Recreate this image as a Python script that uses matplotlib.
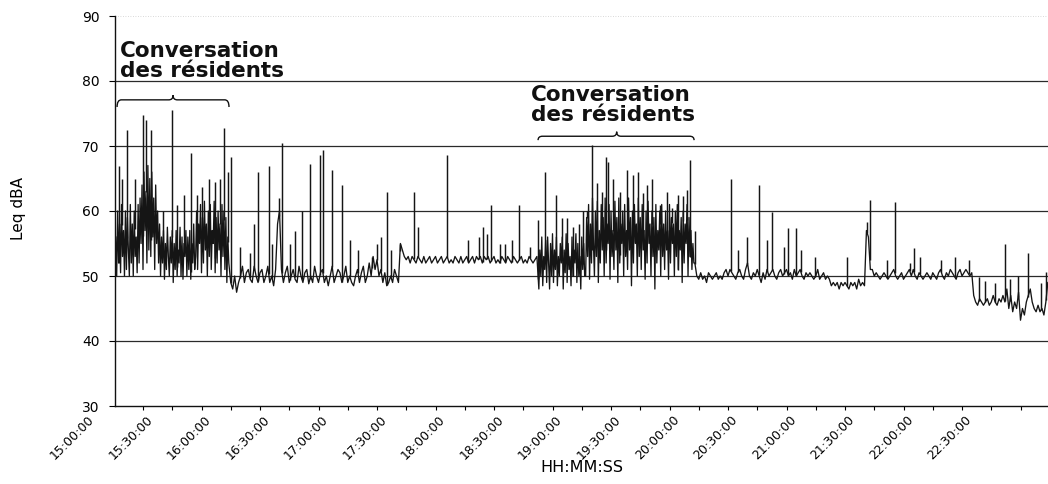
import numpy as np
import matplotlib
matplotlib.use("Agg")
import matplotlib.pyplot as plt
from matplotlib.path import Path
from matplotlib.patches import PathPatch
from matplotlib.transforms import ScaledTranslation, blended_transform_factory
from matplotlib.ticker import FixedLocator, FuncFormatter

# ---------------- data (time in minutes after 15:00:00) ----------------
# 1st residents' conversation, 30 s samples from 15:16:00
conv1_start, conv1_step = 16, 0.5
conv1 = [56, 50, 60, 52, 58, 50.5, 61, 53, 57, 50, 60, 51, 59, 54, 50, 61, 52, 58, 50, 60, 53, 56, 50.5, 61,
         52, 62, 55, 64, 51, 66, 57, 63, 52, 67, 54, 65, 53, 66, 56, 62, 51, 64, 55, 60, 52, 58,
         50, 56, 52, 57, 49.5, 55, 51, 57.5, 53, 50, 56, 52, 57, 49, 55, 51, 57, 50, 54, 52,
         57.5, 50, 56, 49.5, 55, 53, 57, 50, 56, 51, 57, 49.5, 55, 52, 58, 51,
         53, 60, 51, 58, 55, 61, 50.5, 59, 52, 61.5, 54, 58, 50, 60, 53, 61, 51, 57, 55, 61.5,
         50.5, 59, 52, 60, 54, 58, 50, 61, 53, 60, 51, 59, 49, 56]
# quiet period, 1 min samples from 16:14:00
quiet_a_start, quiet_a_step = 74, 1
quiet_a = [52, 49, 48, 50, 47.5, 49,
           50, 51.5, 49, 50.5, 51, 49.5, 49, 51.5, 50, 49, 50.5, 51, 49, 50, 51.5, 49, 50, 48.5, 51, 58,
           60, 51, 49, 50.5, 51.5, 49, 50, 51, 49.5, 49, 51.5, 50, 49, 50.5, 51, 48.8, 50, 49, 51.5, 50,
           49, 50.5, 51, 49, 50, 48.5, 50, 51.5, 49, 50, 51, 50.5, 49, 50, 51.5, 49, 50, 49, 48.5, 50,
           51, 49, 50.5, 51.5, 49, 50, 52, 50, 53, 51, 52.5, 50, 51, 49, 50.5, 48.5, 49, 50, 49, 51, 50, 49]
quiet_b_start, quiet_b_step = 162, 1
quiet_b = [55, 54, 53, 52.5, 53, 52, 53, 52.5, 52, 53, 52.5, 52, 53, 52, 52.5, 53, 52, 52.5, 53, 52,
           52.5, 53, 52, 52.5, 53, 52, 52.5, 52, 53, 52.5, 52, 53, 52, 52.5, 53, 52, 52.5, 53, 52, 53,
           52.5, 53, 52, 53, 52.5, 53, 52, 52.5, 53, 52, 52.5, 52, 53, 52.5, 52, 53, 52.5, 52, 53, 52.5,
           52, 52.5, 53, 52, 52.5, 52, 53, 52.5, 52, 52.5, 53]
# 2nd residents' conversation, 30 s samples from 18:53:00
conv2_start, conv2_step = 233, 0.5
conv2 = [48, 54, 50, 56, 48.5, 53, 51, 55.5, 49, 56, 52, 48, 55, 50, 56.5, 49, 54, 51, 56, 48.5,
         53, 50, 55, 52, 56, 48, 54, 50.5, 56.5, 49, 55, 51, 53, 48.5, 56, 50, 54, 52, 56.5, 49,
         55, 50, 53, 48, 56, 51, 55, 50,
         50, 59, 53, 61, 49.5, 58, 52, 62, 55, 50, 60, 53, 61.5, 49, 57, 52, 61, 54, 59, 50,
         62, 52, 58, 55, 61, 49.5, 60, 53, 57, 51, 61.5, 54, 59, 49, 62, 52, 58, 55, 60, 50,
         61, 53, 57, 51, 62, 54, 59, 48.5, 60, 52, 61, 55, 58, 50, 62, 53, 59, 51, 61, 54,
         57, 49.5, 60, 52, 61.5, 55, 58, 50, 60, 53, 59, 48, 61, 52, 57, 54, 60, 50, 61, 53,
         58, 51, 60, 54, 57, 49.5, 61, 52, 59, 55, 58, 50, 60, 53, 61, 51, 57, 54, 59, 49,
         60, 52, 58, 55, 61, 50, 59, 53, 57, 51, 55, 52]
quiet_c_start, quiet_c_step = 313, 1
quiet_c = [52, 50, 49.5, 50.5, 49.5, 50, 49, 50.5, 50, 49.5, 50, 50.5, 49.5, 50, 49.5, 50.5, 51, 50, 51, 50.5,
           50, 49.5, 50.5, 51, 50, 49.5, 51, 52, 50, 49.5, 50.5, 50, 51, 50, 49, 50.5, 49.5, 51, 50, 50.5,
           51, 50, 49.5, 50.5, 51, 50, 50.5, 51, 50, 50.5, 49.5, 51, 50, 50.5, 51, 50, 49.5, 50.5, 50, 50.5,
           50, 49.5, 50, 51, 49.5, 50, 50.5, 49.5, 50, 49.5, 48.5, 49, 48.5, 49, 48, 49, 48.5, 49, 48.5, 48,
           49, 48.5, 49, 48, 49.5, 48.5, 49, 48.5, 57, 56, 51, 51, 50, 50.5, 50, 49.5, 50, 50.5, 50, 49.5,
           50, 50.5, 51, 50, 49.5, 50, 50.5, 49.5, 50, 50.5, 51, 50, 51, 50, 49.5, 50.5, 50, 49.5, 50, 50.5,
           50, 49.5, 50.5, 50, 49.5, 50.5, 51, 50, 49.5, 50.5, 50, 51, 50.5, 50, 49.5, 50.5, 51, 50, 50.5, 51,
           50.5, 50, 50.5]
final_d_start, final_d_step = 456, 1
final_d = [47, 46, 45.5, 46.5, 46, 45.5, 46, 46.5, 45.5, 46, 47, 46, 45.5, 46.5, 46,
           47, 46, 48, 45, 47, 44.5, 46, 45, 47.5, 43.2, 45, 44, 46, 47, 48, 46, 45, 44.5,
           45.5, 44.5, 45, 44, 46, 49]

# short peaks (minute after 15:00, Leq dBA)
spike_min = [17.5, 19.2, 21.8, 25.7, 29.8, 31.5, 34.1, 40.1, 44.9, 47.4, 50.9, 54.6, 57.7, 60.3,
             63.7, 66.9, 69.5, 71.4, 73.6,
             75.1, 79.7, 84.9, 86.8, 88.8, 94.5, 96.2, 99.6, 101.3, 105.4, 107.8, 111.5, 115.6,
             120.8, 122.3, 126.9, 132.1, 136.0, 140.3, 147.4, 150.0, 152.1, 155.1, 157.2, 161.8,
             168.8, 171.0, 186.0, 196.8, 202.3, 204.2, 206.3, 208.5, 213.0, 215.6, 219.1, 222.8,
             228.5, 232.7,
             236.2, 241.6, 244.7, 247.3, 250.5, 253.7, 255.6, 257.5, 260.1, 262.7, 265.2, 267.4,
             268.6, 271.0, 274.6, 278.1, 281.3, 283.8, 286.3, 288.3, 290.9, 295.1, 298.6, 301.1,
             304.5, 307.1, 308.8, 310.5, 313.1,
             331.4, 335.1, 339.9, 345.9, 350.2, 352.7, 358.7, 360.8, 365.0, 367.4, 374.8, 391.2,
             401.4, 402.7, 411.7, 415.5, 423.2, 425.4, 428.5, 439.4, 446.4, 453.4,
             458.6, 461.9, 467.0, 471.9, 474.6, 478.7, 483.8, 490.5, 493.1]
spike_db = [67, 65, 72.5, 65, 74.8, 74, 72.5, 60, 75.5, 61, 62.5, 69, 62.5, 63.7,
            65, 64.5, 65, 72.7, 66,
            68.3, 54.5, 53.5, 58, 66, 67, 55, 62, 70.5, 55, 57, 60, 67.3,
            68.6, 69.4, 66.3, 64, 55.5, 54, 53, 55, 56, 63, 54, 55,
            63, 57.5, 68.6, 55.5, 56, 57.5, 56.5, 61, 55, 55, 55.5, 61,
            54.5, 58.6,
            66, 62.5, 59, 59, 57.5, 58, 60, 60, 70.2, 64.3, 63, 68.3,
            67.5, 65, 63, 66.3, 65.5, 66, 62.7, 64, 65, 61, 63, 60.5,
            62.5, 62.3, 63.3, 67.8, 57,
            65, 54, 56, 64, 55.5, 59.8, 54.5, 57.4, 57.4, 54, 53, 53,
            58.3, 61.7, 52.5, 61.4, 52, 54.3, 53, 52.5, 53, 52.5,
            49.8, 49.2, 49, 55, 49.5, 50, 53.5, 49, 50.6]

y_ticks = [30, 40, 50, 60, 70, 80, 90]
grid_levels = [40, 50, 60, 70, 80]
label_ticks = list(range(30, 451, 30))          # labelled every 30 min (15:30 .. 22:30)
minor_ticks = [m for m in range(45, 495, 15) if m % 30 != 0] + [480]
annot_text = "Conversation\ndes résidents"

segments = [(conv1_start, conv1_step, conv1), (quiet_a_start, quiet_a_step, quiet_a),
            (quiet_b_start, quiet_b_step, quiet_b), (conv2_start, conv2_step, conv2),
            (quiet_c_start, quiet_c_step, quiet_c), (final_d_start, final_d_step, final_d)]
t = np.concatenate([s + st * np.arange(len(v)) for s, st, v in segments])
leq = np.concatenate([np.asarray(v, dtype=float) for _, _, v in segments])

# ---------------- figure ----------------
W, H, DPI = 1048, 484, 100
fig = plt.figure(figsize=(W / DPI, H / DPI), dpi=DPI)
ax_l, ax_r, ax_b, ax_t = 115, 1048, 406, 16
ax = fig.add_axes([ax_l / W, 1 - ax_b / H, (ax_r - ax_l) / W, (ax_b - ax_t) / H])

x0 = 15.64
x1 = x0 + (ax_r - ax_l) / 1.95
ax.set_xlim(x0, x1)
ax.set_ylim(30, 90)

for g in grid_levels:
    ax.axhline(g, color="#2a2a2a", lw=0.9, zorder=1)
ax.axhline(90, color="#cccccc", lw=0.6, ls=(0, (1, 2)), zorder=1)

ink = "#151515"
ax.plot(t, leq, color=ink, lw=0.95, zorder=3)
foot = np.interp(spike_min, t, leq)
ax.vlines(spike_min, foot, spike_db, color=ink, lw=1.05, zorder=3)

# spines / ticks
for s in ("top", "right"):
    ax.spines[s].set_visible(False)
for s in ("left", "bottom"):
    ax.spines[s].set_linewidth(1.0)
    ax.spines[s].set_color("#111111")

ax.set_yticks(y_ticks)
ax.tick_params(axis="y", direction="out", length=4, width=0.8, pad=7, labelsize=10)


def hms(m, pos=None):
    m = int(round(m))
    return f"{15 + m // 60:02d}:{m % 60:02d}:00"


ax.xaxis.set_major_locator(FixedLocator(label_ticks))
ax.xaxis.set_minor_locator(FixedLocator(minor_ticks))
ax.xaxis.set_major_formatter(FuncFormatter(hms))
ax.tick_params(axis="x", which="both", direction="out", length=3, width=0.8, pad=2)
ax.tick_params(axis="x", which="major", labelsize=9)
shift = ScaledTranslation(3 / DPI, 0, fig.dpi_scale_trans)
for lab in ax.get_xticklabels():
    lab.set_rotation(45)
    lab.set_ha("right")
    lab.set_va("top")
    lab.set_rotation_mode("anchor")
    lab.set_transform(lab.get_transform() + shift)

# the first category label (15:00:00) sits left of the plotted range
tr = blended_transform_factory(ax.transData, ax.transAxes) + ScaledTranslation(
    3 / DPI, -5 / 72, fig.dpi_scale_trans)
ax.text(0, 0, hms(0), transform=tr, rotation=45, ha="right", va="top",
        rotation_mode="anchor", fontsize=9, clip_on=False)

ax.set_xlabel("HH:MM:SS", fontsize=11.5)
ax.xaxis.set_label_coords(0.5, -(460 - ax_b) / (ax_b - ax_t))
ax.set_ylabel("Leq dBA", fontsize=11)
ax.yaxis.label.set_va("center")
ax.yaxis.set_label_coords((19 - ax_l) / (ax_r - ax_l), (ax_b - 208) / (ax_b - ax_t))

# ---------------- annotations ----------------
def brace(ax, xa, xb, xm, y_end, y_mid, y_top, d=2.2):
    verts = [(xa, y_end), (xa, y_mid), (xa + d, y_mid), (xm - d, y_mid),
             (xm, y_mid), (xm, y_top), (xm, y_mid), (xm + d, y_mid),
             (xb - d, y_mid), (xb, y_mid), (xb, y_end)]
    codes = [Path.MOVETO, Path.CURVE3, Path.CURVE3, Path.LINETO,
             Path.CURVE3, Path.CURVE3, Path.CURVE3, Path.CURVE3,
             Path.LINETO, Path.CURVE3, Path.CURVE3]
    ax.add_patch(PathPatch(Path(verts, codes), fill=False, lw=1.0,
                           edgecolor="#111111", zorder=4, clip_on=False))


brace(ax, 16.7, 74.1, 45.4, 76.0, 77.1, 77.8)
brace(ax, 232.6, 312.6, 272.9, 70.9, 71.5, 72.2)

ax.text(18.0, 86.2, annot_text, fontsize=15.5, fontweight="bold", ha="left", va="top",
        linespacing=1.0, color="#111111", zorder=5)
ax.text(229.0, 79.4, annot_text, fontsize=15.5, fontweight="bold", ha="left", va="top",
        linespacing=1.0, color="#111111", zorder=5)

fig.savefig("out.png", dpi=DPI)
